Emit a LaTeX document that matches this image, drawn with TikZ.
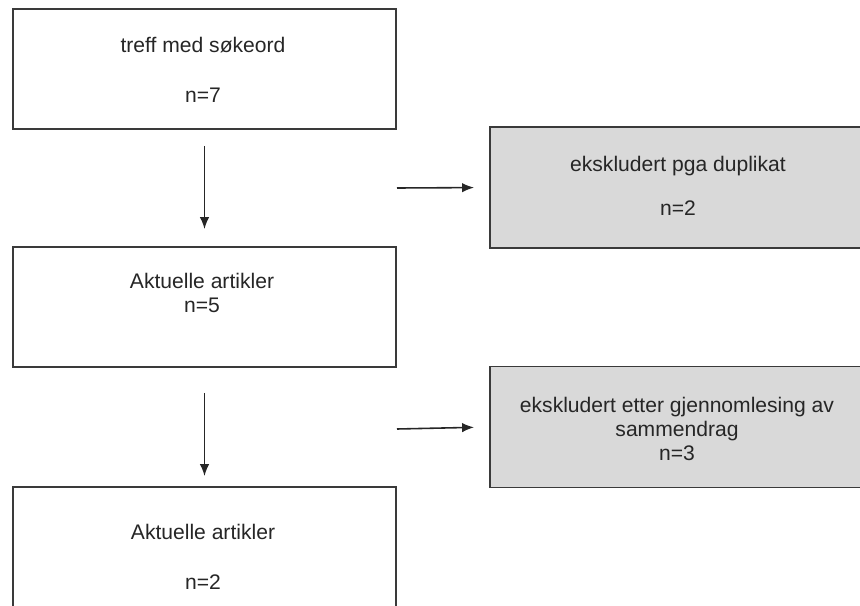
\documentclass[tikz,border=0pt]{standalone}
\usepackage{fontspec}
\setmainfont{Liberation Sans}
\usepackage{tikz}
\usetikzlibrary{arrows.meta}
\definecolor{boxgray}{HTML}{D9D9D9}
\definecolor{edgegray}{HTML}{3A3A3A}
\tikzset{
  flowbox/.style={draw=edgegray, line width=1.1pt, minimum width=7.66cm, minimum height=2.4cm, inner sep=0pt},
  exclbox/.style={flowbox, fill=boxgray, minimum width=8.4cm, minimum height=2.42cm},
  boxtext/.style={align=center, font=\fontsize{12}{13.8}\selectfont, text=black!85},
  flowarrow/.style={-{Latex[length=2.4mm,width=1.9mm]}, line width=0.9pt, draw=black!85}
}

\begin{document}
\begin{tikzpicture}[x=0.02cm, y=-0.02cm]
            \useasboundingbox (0,0) rectangle (860,606);
            \clip (0,0) rectangle (860,606);

            % Left column: included articles
            \node[flowbox] (treff) at (204.5,69) {};
            \node[flowbox] (aktuelle1) at (204.5,307) {};
            \node[flowbox, minimum height=2.5cm] (aktuelle2) at (204.5,549.5) {};

            % Right column: excluded articles
            \node[exclbox] (duplikat) at (700,187.5) {};
            \node[exclbox] (sammendrag) at (700,427) {};

            % Texts in the boxes
            \node[boxtext] (treff-txt) at (203,70) {treff med søkeord\\[14.5pt]n=7};
            \node[boxtext] (akt1-txt) at (202,293) {Aktuelle artikler\\n=5};
            \node[boxtext] (akt2-txt) at (203,557) {Aktuelle artikler\\[15pt]n=2};
            \node[boxtext] (dup-txt) at (678,186) {ekskludert pga duplikat\\[11pt]n=2};
            \node[boxtext] (samm-txt) at (677,429) {ekskludert etter gjennomlesing av\\sammendrag\\n=3};

            % Arrows down the left column
            \draw[flowarrow, shorten <=0.32cm, shorten >=0.34cm] (treff) -- (aktuelle1);
            \draw[flowarrow, shorten <=0.5cm, shorten >=0.2cm] (aktuelle1) -- (aktuelle2);

            % Arrows to the excluded boxes
            \coordinate (dup-from) at (397,188);
            \coordinate (samm-from) at (397,429);
            \draw[flowarrow, shorten >=0.3cm] (dup-from) -- (duplikat.west);
            \draw[flowarrow, shorten >=0.3cm] (samm-from) -- (sammendrag.west);
\end{tikzpicture}
\end{document}
